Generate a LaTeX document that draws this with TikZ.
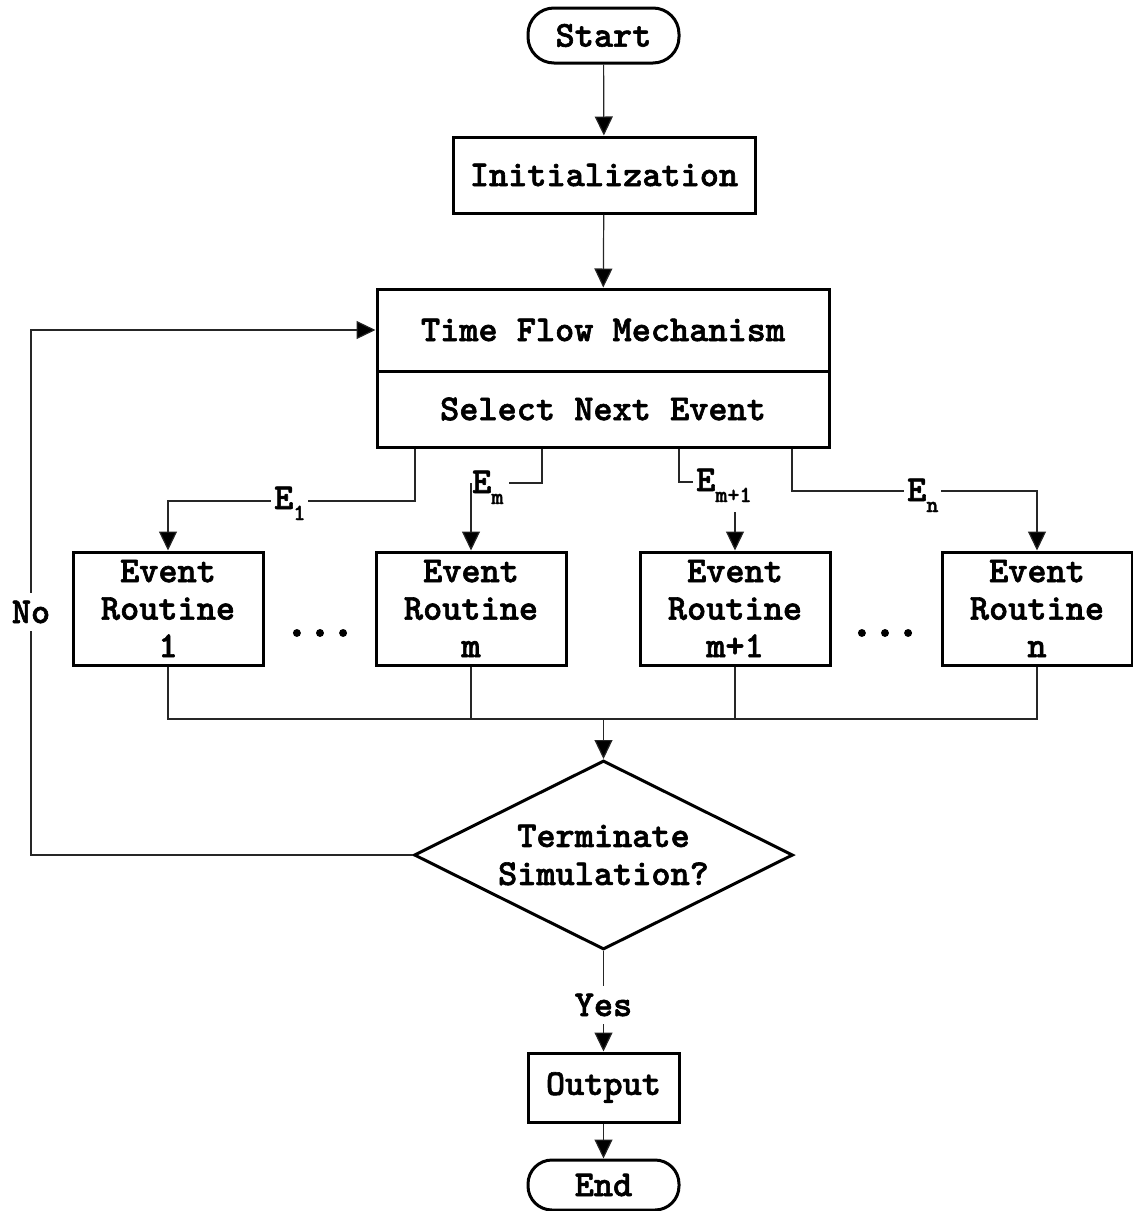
\documentclass[tikz,border=0pt]{standalone}
\usepackage{fontspec}
\newfontfamily\cour{lmmonolt10-bold.otf}[FakeBold=1.6]
\newfontfamily\courdots{lmmonolt10-bold.otf}[FakeBold=4]
\usetikzlibrary{arrows.meta,shapes.geometric}
\newcommand{\mfont}[1]{\cour\fontsize{#1}{#1}\selectfont}
\tikzset{
  box/.style={draw,line width=3pt,rectangle,inner sep=0pt,align=center,
    font=\cour\fontsize{36.5}{37.5}\selectfont},
  term/.style={box,rounded corners=26pt},
  conn/.style={line width=1.2pt,draw=black!85},
  arr/.style={conn,-{Triangle[length=19pt,width=18pt,fill=black]}},
  lbl/.style={inner xsep=3pt,inner ysep=2pt,font=\mfont{36.5}},
  dotsty/.style={font=\courdots\fontsize{44}{44}\selectfont,inner sep=0pt,anchor=base},
}
\newcommand{\subtxt}[1]{\raisebox{-11pt}{\fontsize{23}{23}\selectfont #1}}
\begin{document}
\begin{tikzpicture}[x=1pt,y=-1pt]
\useasboundingbox (0,0) rectangle (1133,1211);
% nodes
\node[term,minimum width=151,minimum height=55] (start) at (603.5,35.5) {Start};
\node[box,minimum width=302,minimum height=76] (init) at (604,175) {Initialization};
\node[box,minimum width=452,minimum height=82] (tfm) at (603,330) {Time Flow Mechanism};
\node[box,minimum width=452,minimum height=76] (sne) at (603,409) {Select Next Event};
\node[box,minimum width=190,minimum height=113] (b1) at (168,608.5) {Event\\Routine\\1};
\node[box,minimum width=190,minimum height=113] (bm) at (471,608.5) {Event\\Routine\\m};
\node[box,minimum width=190,minimum height=113] (bm1) at (735,608.5) {Event\\Routine\\m+1};
\node[box,minimum width=190,minimum height=113] (bn) at (1037,608.5) {Event\\Routine\\n};
\node[dotsty] (dots1) at (320,636) {...};
\node[dotsty] (dots2) at (885,636) {...};
\node[diamond,draw,line width=3pt,aspect=2,minimum width=379,minimum height=189,inner sep=0pt,
  align=center,font=\cour\fontsize{36.5}{38}\selectfont] (dec) at (603.5,855) {Terminate\\Simulation?};
\node[box,minimum width=151,minimum height=69] (out) at (603.5,1087.5) {Output};
\node[term,minimum width=151,minimum height=50,rounded corners=24pt] (end) at (603.5,1185) {End};
% coordinates
\coordinate (loopc) at (31,330);
\coordinate (e1c) at (415,501);
\coordinate (emx) at (542,483);
\coordinate (emend) at (509,483);
\coordinate (em1x) at (679,482);
\coordinate (em1end) at (693,482);
\coordinate (em1arr) at (735,512);
\coordinate (enc) at (792,491);
\coordinate (mrg) at (603.5,719);
% connectors
\draw[arr] (start) -- (init);
\draw[arr] (init) -- (tfm);
\draw[arr] (dec.west) -| (loopc) -- (tfm.west);
\draw[arr] (sne.south -| e1c) |- (b1.north |- e1c) -- (b1.north);
\draw[conn] (sne.south -| emx) |- (emend);
\draw[arr] (bm.north |- emend) -- (bm.north);
\draw[conn] (sne.south -| em1x) |- (em1end);
\draw[arr] (bm1.north |- em1arr) -- (bm1.north);
\draw[arr] (sne.south -| enc) |- (bn.north |- enc) -- (bn.north);
\draw[conn] (b1.south) |- (mrg);
\draw[conn] (bm.south) |- (mrg);
\draw[conn] (bm1.south) |- (mrg);
\draw[conn] (bn.south) |- (mrg);
\draw[arr] (mrg) -- (dec.north);
\draw[arr] (dec.south) -- (out.north);
\draw[arr] (out) -- (end);
% labels
\node[lbl,fill=white,anchor=base west] (l1) at (271,509) {E\subtxt{1}};
\node[lbl,anchor=base west,inner xsep=0pt] (lm) at (472,493) {E\subtxt{m}};
\node[lbl,anchor=base west,inner xsep=0pt] (lm1) at (696,491) {E\subtxt{m+1}};
\node[lbl,fill=white,anchor=base west] (ln) at (904,501) {E\subtxt{n}};
\node[lbl,fill=white,inner ysep=8pt] (no) at (31,612) {No};
\node[lbl,fill=white,inner ysep=8pt] (yes) at (603.5,1005) {Yes};
\end{tikzpicture}
\end{document}
